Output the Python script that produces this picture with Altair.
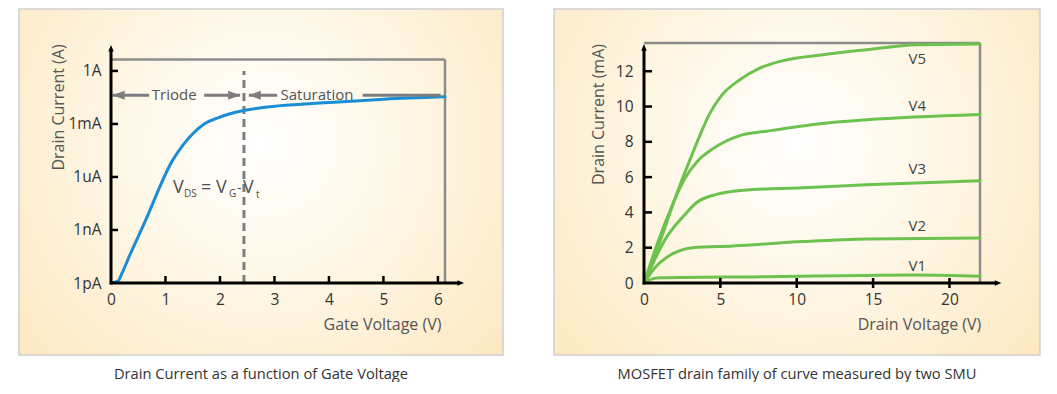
import altair as alt
import pandas as pd

FONT = "Open Sans"

# ---------------- Left panel data: drain current vs gate voltage ----------------
gate_voltage = [0, 0.13, 0.2, 0.35, 0.6, 1.13, 1.32, 1.5, 1.71, 1.96, 2.39, 2.87, 3.49, 4.1, 5.01, 6.13]
drain_current = [1e-12, 1.3e-12, 3.5e-12, 4.1e-11, 2e-9, 8.7e-6, 6.3e-5, 2.8e-4, 1.0e-3, 2.2e-3,
                 5.4e-3, 9.1e-3, 1.3e-2, 1.7e-2, 2.5e-2, 3.4e-2]
gate_ticks = [0, 1, 2, 3, 4, 5, 6]
current_ticks = [1e-12, 1e-9, 1e-6, 1e-3, 1.0]
current_tick_labels = ["1pA", "1nA", "1uA", "1mA", "1A"]
vt_boundary = 2.44  # V_DS = V_G - V_t

# ---------------- Right panel data: drain family ----------------
series_names = ["V1", "V2", "V3", "V4", "V5"]
v1_x = [0, 0.5, 1.03, 8, 14.57, 17.85, 22]
v1_y = [0, 0.22, 0.3, 0.36, 0.43, 0.45, 0.38]
v2_x = [0, 0.8, 1.57, 3.2, 5.83, 10.4, 14.57, 22]
v2_y = [0, 0.95, 1.5, 2.0, 2.1, 2.35, 2.5, 2.55]
v3_x = [0, 1.46, 2.6, 3.43, 4.74, 6.48, 10.4, 14.57, 22]
v3_y = [0, 2.57, 3.8, 4.55, 5.02, 5.25, 5.4, 5.57, 5.8]
v4_x = [0, 1.03, 2.0, 2.66, 3.5, 4.5, 6.27, 8.02, 11.5, 14.57, 22]
v4_y = [0, 2.6, 4.7, 5.9, 6.9, 7.6, 8.35, 8.6, 9.03, 9.25, 9.55]
v5_x = [0, 1.03, 2.12, 3.3, 4.3, 5.07, 6.27, 7.58, 9.11, 11.73, 14.57, 17.85, 22]
v5_y = [0, 2.3, 5.0, 7.6, 9.6, 10.62, 11.52, 12.18, 12.6, 12.94, 13.22, 13.5, 13.55]
label_x = 17.9
label_y = [0.95, 3.23, 6.44, 10.03, 12.67]
drain_v_ticks = [0, 5, 10, 15, 20]
drain_i_ticks = [0, 2, 4, 6, 8, 10, 12]

# ---------------- geometry / styles ----------------
H = 240
LW, RW = 334, 336
L_XMAX, L_YMIN, L_YMAX = 6.13, 1e-12, 38.0
L_BOXTOP = 4.5
R_XMAX, R_YMAX = 22.0, 13.6

LABEL_COLOR = "#333333"
TITLE_COLOR = "#555555"
GRAY = "#8c8c8c"
ANN_GRAY = "#7d7d7d"

grad = alt.Gradient(
    gradient="radial",
    stops=[alt.GradientStop(color="#ffffff", offset=0),
           alt.GradientStop(color="#fff8e9", offset=0.35),
           alt.GradientStop(color="#fce5b8", offset=1)],
    x1=0.5, y1=0.42, r1=0, x2=0.5, y2=0.42, r2=0.75,
)

ARROW_L = "M0,0 L2.4,-0.9 L2.4,0.9 Z"
ARROW_R = "M0,0 L-2.4,-0.9 L-2.4,0.9 Z"
AXIS_UP = "M0,0 L-1,2.4 L1,2.4 Z"
AXIS_RIGHT = "M0,0 L-2.4,-1 L-2.4,1 Z"

label_expr = " : ".join(
    [f"datum.value < {v * 1.5:g} ? '{t}'" for v, t in zip(current_ticks[:-1], current_tick_labels[:-1])]
) + f" : '{current_tick_labels[-1]}'"

common_axis = dict(grid=False, domain=False, ticks=False, tickSize=0, zindex=1,
                   labelFont=FONT, labelFontSize=15.5, labelColor=LABEL_COLOR,
                   labelFlush=False, labelOverlap=False,
                   titleFont=FONT, titleFontSize=16, titleFontWeight="normal", titleColor=TITLE_COLOR,
                   titleAlign="center", titleBaseline="middle")

left_x_axis = alt.Axis(values=gate_ticks, labelPadding=9, titleX=271, titleY=41, titleAngle=0, **common_axis)
left_y_axis = alt.Axis(values=current_ticks, labelExpr=label_expr, labelPadding=10, labelBaseline="middle",
                       titleX=-53, titleY=64, titleAngle=270, **common_axis)


def lx(field="x"):
    return alt.X(field, type="quantitative", scale=alt.Scale(domain=[0, L_XMAX], nice=False, zero=False),
                 axis=left_x_axis, title="Gate Voltage (V)")


def ly(field="y"):
    return alt.Y(field, type="quantitative",
                 scale=alt.Scale(type="log", domain=[L_YMIN, L_YMAX], nice=False),
                 axis=left_y_axis, title="Drain Current (A)")


right_x_axis = alt.Axis(values=drain_v_ticks, labelPadding=9, titleX=275, titleY=41, titleAngle=0,
                        **common_axis)
right_y_axis = alt.Axis(values=drain_i_ticks, labelPadding=11, labelBaseline="middle",
                        titleX=-46, titleY=71, titleAngle=270, **common_axis)


def rx(field="x"):
    return alt.X(field, type="quantitative", scale=alt.Scale(domain=[0, R_XMAX], nice=False, zero=False),
                 axis=right_x_axis, title="Drain Voltage (V)")


def ry(field="y"):
    return alt.Y(field, type="quantitative", scale=alt.Scale(domain=[0, R_YMAX], nice=False, zero=False),
                 axis=right_y_axis, title="Drain Current (mA)")


def df(**cols):
    return pd.DataFrame(cols)


def background(x0, x1):
    return alt.Chart(df(d=[0])).mark_rect(fill=grad, stroke="#cfcfcf", strokeWidth=1.5).encode(
        x=alt.value(x0), x2=alt.value(x1), y=alt.value(-34), y2=alt.value(312))


def caption(text):
    return alt.TitleParams(text, orient="bottom", anchor="middle", frame="bounds", offset=11, font=FONT,
                           fontSize=14.7, fontWeight="normal", color="#333333")


# ---------------- Left panel layers ----------------
left_bg = background(-92, 392)
left_box = alt.layer(
    alt.Chart(df(x=[0], x2=[L_XMAX], y=[L_BOXTOP])).mark_rule(color=GRAY, strokeWidth=2.5)
    .encode(x=lx(), x2=alt.X2("x2"), y=ly()),
    alt.Chart(df(x=[L_XMAX], y=[L_YMIN], y2=[L_BOXTOP])).mark_rule(color=GRAY, strokeWidth=2.5)
    .encode(x=lx(), y=ly(), y2=alt.Y2("y2")),
)
left_dash = alt.Chart(df(x=[vt_boundary], y=[L_YMIN], y2=[1.0])).mark_rule(
    color=ANN_GRAY, strokeWidth=3, strokeDash=[8, 5]).encode(x=lx(), y=ly(), y2=alt.Y2("y2"))

left_curve = alt.Chart(df(x=gate_voltage, y=drain_current)).mark_line(
    color="#1b8dd6", strokeWidth=3, interpolate="monotone", strokeCap="round").encode(x=lx(), y=ly())

ARROW_Y = 0.042
left_arrows = alt.Chart(df(x=[0.03, 1.71, 2.53, 4.62], x2=[0.7, 2.37, 3.05, 6.05],
                           y=[ARROW_Y] * 4)).mark_rule(color=ANN_GRAY, strokeWidth=3).encode(
    x=lx(), x2=alt.X2("x2"), y=ly())
left_heads_l = alt.Chart(df(x=[0.03, 2.53], y=[ARROW_Y] * 2)).mark_point(
    shape=ARROW_L, filled=True, size=100, color=ANN_GRAY, opacity=1).encode(x=lx(), y=ly())
left_heads_r = alt.Chart(df(x=[2.37], y=[ARROW_Y])).mark_point(
    shape=ARROW_R, filled=True, size=100, color=ANN_GRAY, opacity=1).encode(x=lx(), y=ly())
left_region_text = alt.Chart(df(x=[1.16, 3.78], y=[ARROW_Y] * 2, t=["Triode", "Saturation"])).mark_text(
    font=FONT, fontSize=15, color="#555555", baseline="middle", align="center").encode(
    x=lx(), y=ly(), text="t:N")

# V_DS = V_G - V_t annotation pieces
VDS_X, VDS_Y = 1.14, 1.2e-7
vds_pieces = [("V", 18, 0, 0), ("DS", 10, 11, 4), ("=", 18, 28, 0), ("V", 18, 43, 0), ("G", 10, 56, 4),
              ("-", 14, 64, 0), ("V", 18, 70, 0), ("t", 10, 83, 5)]
vds_layers = [
    alt.Chart(df(x=[VDS_X], y=[VDS_Y])).mark_text(
        text=t, font=FONT, fontSize=fs, dx=dx, dy=dy, align="left", baseline="alphabetic",
        color="#505050").encode(x=lx(), y=ly())
    for t, fs, dx, dy in vds_pieces
]

# black axes with arrowheads and inward ticks
L_XTIP, L_YTIP = 6.48, 29.5
left_axes = alt.layer(
    alt.Chart(df(x=[0], y=[L_YMIN], y2=[L_YTIP])).mark_rule(color="black", strokeWidth=3, y2Offset=6,
                                                            yOffset=1.5)
    .encode(x=lx(), y=ly(), y2=alt.Y2("y2")),
    alt.Chart(df(x=[0], x2=[L_XTIP], y=[L_YMIN])).mark_rule(color="black", strokeWidth=3, x2Offset=-6)
    .encode(x=lx(), x2=alt.X2("x2"), y=ly()),
    alt.Chart(df(x=[0], y=[L_YTIP])).mark_point(shape=AXIS_UP, filled=True, size=30, opacity=1,
                                                color="black").encode(x=lx(), y=ly()),
    alt.Chart(df(x=[L_XTIP], y=[L_YMIN])).mark_point(shape=AXIS_RIGHT, filled=True, size=30, opacity=1,
                                                     color="black").encode(x=lx(), y=ly()),
    alt.Chart(df(x=[0] * 4, y=current_ticks[1:])).mark_rule(color="black", strokeWidth=2.5, x2Offset=7)
    .encode(x=lx(), x2=alt.X2("x"), y=ly()),
    alt.Chart(df(x=gate_ticks[1:], y=[L_YMIN] * 6)).mark_rule(color="black", strokeWidth=2.5, yOffset=-7)
    .encode(x=lx(), y=ly(), y2=alt.Y2("y")),
)

left = alt.layer(left_bg, left_box, left_dash, left_curve, left_arrows, left_heads_l, left_heads_r,
                 left_region_text, *vds_layers, left_axes).properties(
    width=LW, height=H, title=caption("Drain Current as a function of Gate Voltage"))

# ---------------- Right panel layers ----------------
rows = []
for name, xs, ys in zip(series_names, [v1_x, v2_x, v3_x, v4_x, v5_x], [v1_y, v2_y, v3_y, v4_y, v5_y]):
    for xv, yv in zip(xs, ys):
        rows.append({"series": name, "x": xv, "y": yv})
family = pd.DataFrame(rows)

right_bg = background(-90, 396)
right_box = alt.layer(
    alt.Chart(df(x=[0], x2=[R_XMAX], y=[R_YMAX])).mark_rule(color=GRAY, strokeWidth=2.5)
    .encode(x=rx(), x2=alt.X2("x2"), y=ry()),
    alt.Chart(df(x=[R_XMAX], y=[0], y2=[R_YMAX])).mark_rule(color=GRAY, strokeWidth=2.5)
    .encode(x=rx(), y=ry(), y2=alt.Y2("y2")),
)
right_curves = alt.Chart(family).mark_line(color="#6dc24f", strokeWidth=3, interpolate="monotone",
                                           strokeCap="round").encode(x=rx(), y=ry(), detail="series:N")
right_labels = alt.Chart(df(x=[label_x] * 5, y=label_y, t=series_names)).mark_text(
    font=FONT, fontSize=15, color="#444444", align="center", baseline="middle").encode(
    x=rx(), y=ry(), text="t:N")

R_XTIP, R_YTIP = 23.4, 13.54
right_axes = alt.layer(
    alt.Chart(df(x=[0], y=[0], y2=[R_YTIP])).mark_rule(color="black", strokeWidth=3, y2Offset=6, yOffset=1.5)
    .encode(x=rx(), y=ry(), y2=alt.Y2("y2")),
    alt.Chart(df(x=[0], x2=[R_XTIP], y=[0])).mark_rule(color="black", strokeWidth=3, x2Offset=-6)
    .encode(x=rx(), x2=alt.X2("x2"), y=ry()),
    alt.Chart(df(x=[0], y=[R_YTIP])).mark_point(shape=AXIS_UP, filled=True, size=30, opacity=1,
                                                color="black").encode(x=rx(), y=ry()),
    alt.Chart(df(x=[R_XTIP], y=[0])).mark_point(shape=AXIS_RIGHT, filled=True, size=30, opacity=1,
                                                color="black").encode(x=rx(), y=ry()),
    alt.Chart(df(x=[0] * 6, y=drain_i_ticks[1:])).mark_rule(color="black", strokeWidth=2.5, x2Offset=8)
    .encode(x=rx(), x2=alt.X2("x"), y=ry()),
    alt.Chart(df(x=drain_v_ticks[1:], y=[0] * 4)).mark_rule(color="black", strokeWidth=2.5, yOffset=-5,
                                                            y2Offset=5)
    .encode(x=rx(), y=ry(), y2=alt.Y2("y")),
)

right = alt.layer(right_bg, right_box, right_curves, right_labels, right_axes).properties(
    width=RW, height=H, title=caption("MOSFET drain family of curve measured by two SMU"))

chart = alt.hconcat(left, right, spacing=49).properties(
    padding={"left": 10, "top": 0, "right": 0, "bottom": 0},
    background="white",
).configure_view(stroke=None)

chart.save("out.html", embed_options={"renderer": "svg", "actions": False})
